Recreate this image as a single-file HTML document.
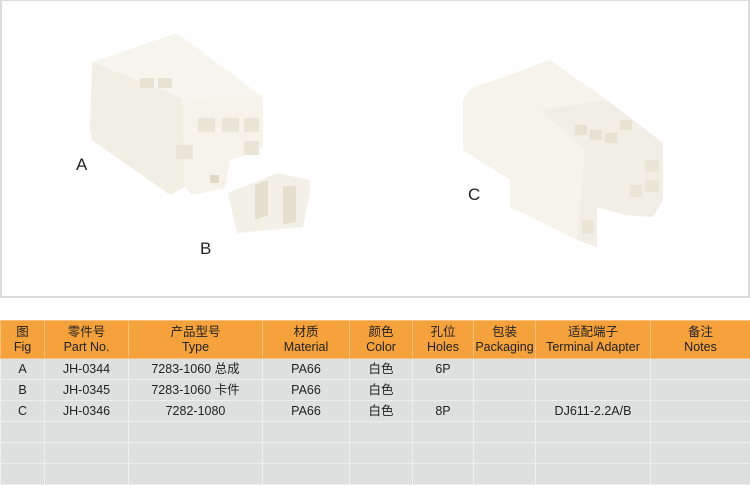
<!DOCTYPE html>
<html><head><meta charset="utf-8"><style>
body{margin:0;width:750px;height:482px;background:#fff;overflow:hidden;font-family:"Liberation Sans","Noto Sans CJK SC",sans-serif;position:relative}
.panel{position:absolute;left:0;top:0;width:746px;height:295px;border:2px solid #dcdcdc;border-top-width:1px}
.lbl{position:absolute;font-size:17px;color:#222}
table{position:absolute;left:0;top:320px;width:750px;border-collapse:collapse;table-layout:fixed;font-size:12.5px;color:#222}
td{border:1px solid #f0f0f0;text-align:center;padding:0;line-height:15px}
tr.h td{background:#f5a13c;height:37px;border-color:#f8c07c;color:#222}
tr.r td{background:#dedfdf;height:20px;border-color:#eeeeee}
</style></head><body>
<div class="panel"></div>
<svg width="750" height="300" style="position:absolute;left:0;top:0">
<g stroke="none">
<!-- A -->
<polygon points="92,62 177,33 263,97 182,98" fill="#f7f6ee"/>
<polygon points="92,62 182,98 185,187 170,195 92,140 90,130" fill="#f1efe4"/>
<polygon points="182,98 263,97 263,147 245,155 230,160 225,188 192,195 185,187" fill="#f5f3ea"/>
<rect x="140" y="78" width="14" height="10" fill="#e6e2d2"/><rect x="158" y="78" width="14" height="10" fill="#e6e2d2"/>
<rect x="198" y="118" width="17" height="14" fill="#e9e6d7"/><rect x="222" y="118" width="17" height="14" fill="#e9e6d7"/><rect x="244" y="118" width="15" height="14" fill="#e9e6d7"/>
<rect x="176" y="145" width="17" height="14" fill="#e9e6d7"/><rect x="244" y="141" width="15" height="14" fill="#e9e6d7"/>
<rect x="210" y="175" width="9" height="8" fill="#dedac8"/>
<!-- B -->
<polygon points="228,193 277,173 310,180 310,193 303,227 237,233" fill="#f3f1e7"/>
<polygon points="255,185 268,180 268,215 255,220" fill="#e4e0cf"/><polygon points="283,186 296,186 296,222 283,224" fill="#e4e0cf"/>
<!-- C -->
<path d="M463,150 L463,100 Q470,85 490,82 L550,60 L607,100 L663,143 L663,200 L653,217 L625,215 L625,210 L597,207 L597,247 L577,240 L510,207 L510,180 Z" fill="#f5f3ea"/>
<polygon points="540,110 607,100 663,143 663,200 653,217 625,215 597,207 597,247 577,240 585,150" fill="#f1efe5"/>
<rect x="575" y="125" width="12" height="10" fill="#e6e2d2"/><rect x="590" y="130" width="12" height="10" fill="#e6e2d2"/><rect x="605" y="133" width="12" height="10" fill="#e6e2d2"/><rect x="620" y="120" width="12" height="10" fill="#e6e2d2"/>
<rect x="645" y="160" width="14" height="12" fill="#e9e6d7"/><rect x="645" y="180" width="14" height="12" fill="#e9e6d7"/><rect x="630" y="185" width="12" height="12" fill="#e9e6d7"/>
<rect x="582" y="220" width="12" height="14" fill="#e9e6d7"/>
</g></svg>
<div class="lbl" style="left:76px;top:155px">A</div>
<div class="lbl" style="left:200px;top:239px">B</div>
<div class="lbl" style="left:468px;top:185px">C</div>
<table>
<colgroup><col style="width:44px"><col style="width:84px"><col style="width:134px"><col style="width:87px"><col style="width:63px"><col style="width:61px"><col style="width:62px"><col style="width:115px"><col style="width:100px"></colgroup>
<tr class="h"><td>图<br>Fig</td><td>零件号<br>Part No.</td><td>产品型号<br>Type</td><td>材质<br>Material</td><td>颜色<br>Color</td><td>孔位<br>Holes</td><td>包装<br>Packaging</td><td>适配端子<br>Terminal Adapter</td><td>备注<br>Notes</td></tr>
<tr class="r"><td>A</td><td>JH-0344</td><td>7283-1060 总成</td><td>PA66</td><td>白色</td><td>6P</td><td></td><td></td><td></td></tr>
<tr class="r"><td>B</td><td>JH-0345</td><td>7283-1060 卡件</td><td>PA66</td><td>白色</td><td></td><td></td><td></td><td></td></tr>
<tr class="r"><td>C</td><td>JH-0346</td><td>7282-1080</td><td>PA66</td><td>白色</td><td>8P</td><td></td><td>DJ611-2.2A/B</td><td></td></tr>
<tr class="r"><td></td><td></td><td></td><td></td><td></td><td></td><td></td><td></td><td></td></tr>
<tr class="r"><td></td><td></td><td></td><td></td><td></td><td></td><td></td><td></td><td></td></tr>
<tr class="r"><td></td><td></td><td></td><td></td><td></td><td></td><td></td><td></td><td></td></tr>
</table>
</body></html>
